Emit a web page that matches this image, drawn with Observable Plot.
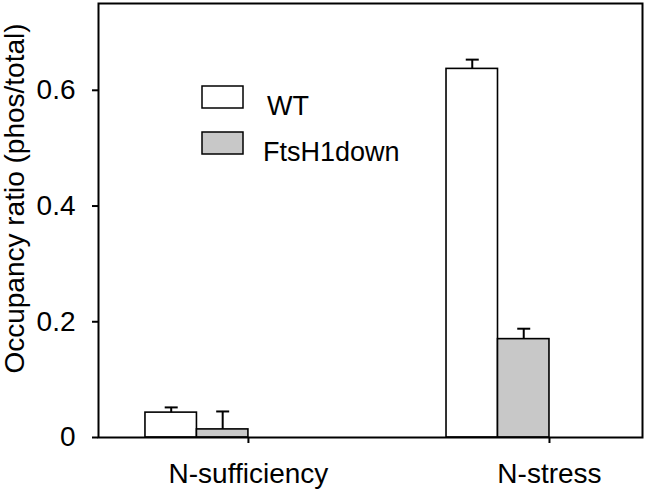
<!DOCTYPE html>
<html>
<head>
<meta charset="utf-8">
<script src="https://cdn.jsdelivr.net/npm/d3@7"></script>
<script src="https://cdn.jsdelivr.net/npm/@observablehq/plot@0.6"></script>
<style>
  html, body { margin: 0; padding: 0; background: #fff; }
  #wrap { position: relative; width: 647px; height: 494px; font-family: "Liberation Sans", Arial, sans-serif; }
  #legend { position: absolute; left: 0; top: 0; }
</style>
</head>
<body>
<div id="wrap"></div>
<script>
// ---- data ----
const categories = ["N-sufficiency", "N-stress"];
const series = ["WT", "FtsH1down"];
const seriesColors = ["#ffffff", "#c8c8c8"];
const wtValues = [0.043, 0.637];
const wtErrors = [0.009, 0.016];
const ftsValues = [0.014, 0.170];
const ftsErrors = [0.031, 0.018];
const yTicks = [0, 0.2, 0.4, 0.6];
const yLabel = "Occupancy ratio (phos/total)";

// ---- table built from the arrays ----
const barW = 0.171;
const rows = [];
categories.forEach((c, i) => {
  [[wtValues, wtErrors], [ftsValues, ftsErrors]].forEach(([vals, errs], j) => {
    rows.push({
      cat: i, series: series[j], value: vals[i], err: errs[i],
      x1: i - (2 - j) * barW, x2: i - (1 - j) * barW, xc: i - (1.5 - j) * barW
    });
  });
});

const capSymbol = {
  draw(context, size) {
    const w = Math.sqrt(size / Math.PI);
    context.moveTo(-w, 0);
    context.lineTo(w, 0);
  }
};

const font = "Liberation Sans, Arial, sans-serif";

const chart = Plot.plot({
  width: 647,
  height: 494,
  marginLeft: 98,
  marginRight: 5,
  marginTop: 3,
  marginBottom: 57,
  style: { fontFamily: font, fontSize: "28px", background: "#fff", color: "#000" },
  x: { domain: [-0.498, 1.309] },
  y: { domain: [0, 0.75] },
  color: { domain: series, range: seriesColors },
  marks: [
    Plot.rect(rows, { x1: "x1", x2: "x2", y1: 0, y2: "value", fill: "series", stroke: "#000", strokeWidth: 1.6 }),
    Plot.ruleX(rows, { x: "xc", y1: "value", y2: d => d.value + d.err, stroke: "#000", strokeWidth: 2 }),
    Plot.dot(rows, { x: "xc", y: d => d.value + d.err, symbol: capSymbol, r: 6.5, stroke: "#000", strokeWidth: 2, fill: "none" }),
    Plot.axisY({ ticks: yTicks, tickFormat: d => d === 0 ? "0" : d.toFixed(1), tickSize: 6, tickPadding: 17, fontSize: 28, strokeWidth: 2, label: null }),
    Plot.axisX({ ticks: [0, 1], tickFormat: i => categories[i], tickSize: 6, tickPadding: 20, fontSize: 28, strokeWidth: 2, label: null }),
    Plot.text([yLabel], { frameAnchor: "left", text: d => d, rotate: -90, dx: -83, dy: -22, fontSize: 28, textAnchor: "middle", fill: "#000" }),
    Plot.frame({ stroke: "#000", strokeWidth: 2 })
  ]
});

const wrap = document.getElementById("wrap");
wrap.appendChild(chart);

// ---- legend (overlay) ----
const leg = d3.select(wrap).append("svg")
  .attr("id", "legend").attr("width", 647).attr("height", 494)
  .style("pointer-events", "none");
series.forEach((s, j) => {
  const g = leg.append("g").attr("transform", `translate(202, ${86 + j * 46})`);
  g.append("rect").attr("width", 41).attr("height", 22)
    .attr("fill", seriesColors[j]).attr("stroke", "#000").attr("stroke-width", 1.5);
  g.append("text").attr("x", j === 0 ? 65 : 61).attr("y", j === 0 ? 29 : 21 + 46 - 46 + 8)
    .attr("font-family", font).attr("font-size", 27).attr("fill", "#000").text(s);
});
</script>
</body>
</html>
